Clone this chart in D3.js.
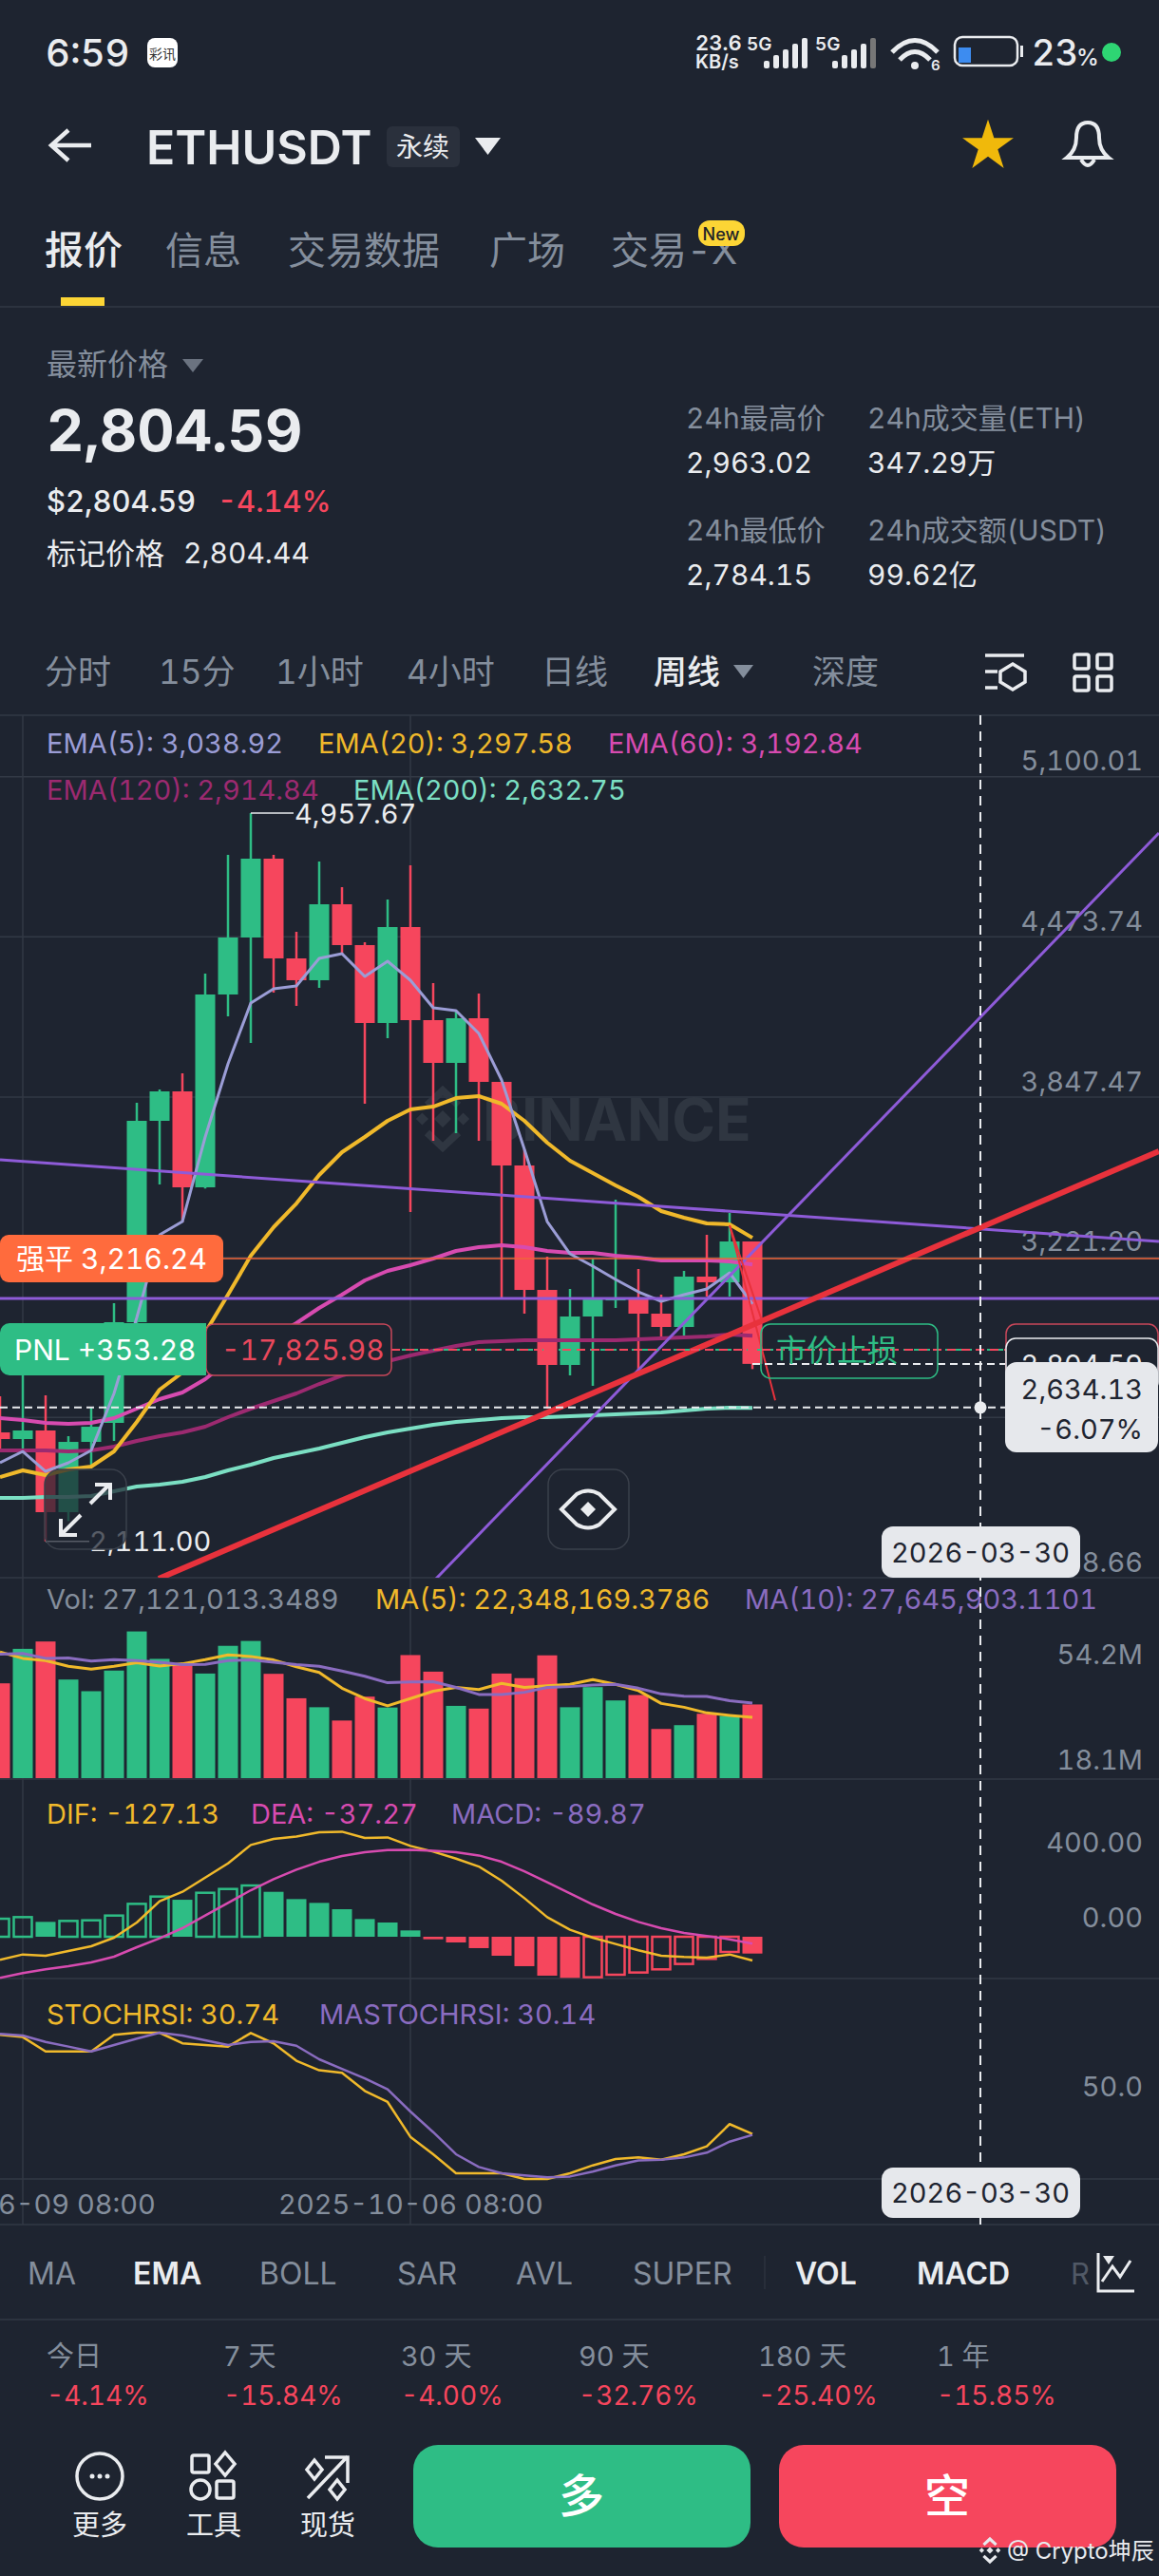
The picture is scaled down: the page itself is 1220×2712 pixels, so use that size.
<!DOCTYPE html>
<html>
<head>
<meta charset="utf-8">
<script src="https://cdn.jsdelivr.net/npm/d3@7"></script>
<style>
  html, body { margin: 0; padding: 0; background: #1e2430; }
  svg { display: block; }
  text { font-family: Inter, "Noto Sans CJK SC", sans-serif; font-variant-numeric: tabular-nums; }
</style>
</head>
<body>
<div id="chart"></div>
<script>
// candles, one per week, index 0 is at the left screen edge
const opens = [2536.7,2510.7,2544.2,2224.8,2499.6,2573.9,2967.5,3754.7,3869.8,3494.8,4248.6,4471.4,4779.6,4389.7,4304.3,4601.3,4441.7,4137.2,4512.2,4148.3,3981.2,4155.7,3907,3580.2,3093.7,2800.4,2989.8,3056.6,3056.6,3000.9,2948.9,3145.7,3123.4,3283.1];
const highs = [2677.8,2759.5,2681.5,2521.9,2633.3,3041.8,3825.3,3877.2,3940.4,4330.3,4794.4,4957.67,4794.4,4493.7,4768.4,4668.2,4452.8,4619.9,4753.6,4293.1,4181.7,4252.3,3907,3643.3,3223.7,3097.4,3216.3,3446.5,3175.4,3075.2,3168,3309.1,3394.5,3283.1];
const lows = [2473.6,2473.6,2111,2190,2406.8,2503.3,2937.8,3505.9,3357.4,3490,4163.2,4059.2,4256,4204,4274.6,4404.5,3821.5,4077.8,3398.2,3676.7,3706.4,3676.7,3056.6,3000.9,2629.6,2759.5,2718.7,3023.2,2778.1,2908.1,2911.8,3067.7,3067.7,2784.15];
const closes = [2510.7,2544.2,2224.8,2499.6,2559,2967.5,3754.7,3869.8,3494.8,4248.6,4471.4,4779.6,4389.7,4304.3,4601.3,4441.7,4137.2,4512.2,4148.3,3981.2,4155.7,3907,3580.2,3093.7,2800.4,2989.8,3056.6,3060,3000.9,2948.9,3145.7,3123.4,3283.1,2804.59];

const ema5 = [2417.9,2462.5,2384.5,2418,2466.2,2689,2986,3309,3361,3691.6,3977.5,4215.2,4270.9,4282,4389.7,4408.2,4319.1,4378.5,4304.3,4196.6,4185.5,4096.3,3914.4,3643.3,3361,3234.8,3186.6,3134.6,3086.3,3049.2,3075.2,3097.4,3160.6,3038.92];
const ema20 = [2362.2,2388.2,2369.6,2391.9,2403.1,2462.5,2577.6,2703.8,2770.7,2926.6,3075.2,3227.4,3338.8,3431.6,3543,3632.2,3691.6,3754.7,3799.3,3810.4,3843.8,3851.2,3821.5,3754.7,3669.3,3598.7,3550.5,3502.2,3457.6,3401.9,3375.9,3353.7,3350,3297.58];
const ema60 = [2592.5,2585,2573.9,2570.2,2573.9,2592.5,2629.6,2666.7,2692.7,2744.7,2815.2,2863.5,2911.8,2963.8,3023.2,3075.2,3130.9,3168,3190.3,3216.3,3246,3260.8,3268.2,3260.8,3246,3238.6,3238.6,3227.4,3220,3208.8,3208.8,3208.8,3205.1,3192.84];
const ema120 = [2466.2,2466.2,2466.2,2462.5,2466.2,2481,2503.3,2521.9,2536.7,2559,2596.2,2629.6,2659.3,2689,2726.1,2759.5,2781.8,2815.2,2837.5,2856.1,2874.7,2889.5,2893.2,2896.9,2896.9,2896.9,2896.9,2896.9,2900.6,2904.3,2908.1,2911.8,2919.2,2914.84];
const ema200 = [2280.5,2280.5,2284.2,2284.2,2287.9,2306.5,2325.1,2332.5,2343.7,2362.2,2388.2,2410.5,2436.4,2455,2473.6,2495.9,2518.2,2536.7,2551.6,2566.4,2577.6,2585,2592.5,2596.2,2596.2,2599.9,2603.6,2607.3,2611,2614.7,2622.2,2629.6,2633.3,2632.75];

// volume in millions
const volumes = [34.9,47.6,50.3,36.3,32,39.6,54,43.9,42.1,38.5,48.7,50.5,38.4,29.4,26.1,21.2,30,26,45.3,39.2,26.6,25.6,38.5,36.8,45.2,26.1,33.5,28.6,30.6,18.1,19.5,23.7,22.9,27.12];
const volMa5 = [46.4,44.1,43.3,41.2,40.1,41.2,42.5,41.3,42.1,43.6,45.4,44.8,43.5,41,38.9,33.1,29.3,26.6,29.3,32,33.4,32.6,34.9,33.4,34,34.5,36.3,34.5,32.2,27.5,26.1,24,23.1,22.35];
const volMa10 = [45.6,45.9,44.1,44.2,43.1,43.6,43.3,42.7,41.8,41.9,43.3,43.5,42.7,41.8,41.2,39.4,37.5,35.1,35.4,35.5,33.4,30.8,30.8,31.6,33.4,33.7,34.3,34.5,33.1,31,30.2,30.1,28.5,27.65];

const macdBars = [96.5,105,79.6,84.7,88,113.4,176,215,198,235.3,255.6,274.3,240.4,201.5,181.2,147.3,94.8,76.2,33.9,-13.5,-30.5,-60.9,-101.6,-157.4,-208.2,-220,-216.7,-203.2,-191.3,-174.4,-145.6,-118.5,-81.3,-89.87];
const dif = [-123.6,-94.8,-101.6,-76.2,-50.8,-5.1,76.2,189.6,240.4,316.6,392.8,491,523.1,536.7,558.7,562.1,528.2,531.6,485.9,455.4,418.2,375.8,299.7,206.5,105,37.2,-5.1,-38.9,-72.8,-101.6,-108.4,-111.7,-94.8,-127.13];
const dea = [-220,-194.7,-174.4,-157.4,-137.1,-106.7,-55.9,-8.5,45.7,113.4,181.2,248.9,308.1,358.9,401.2,431.7,452,463.9,465.6,460.5,452,435.1,401.2,350.5,291.2,231.9,172.7,121.9,79.6,45.7,20.3,3.4,-13.5,-37.27];

const stochRsi = [98.5,97,87.2,87.2,87.2,98.5,100,100,92.7,91.6,90.5,99.8,92.7,80.8,74.3,72.5,60.2,52.6,28.8,16.9,3.9,3.9,3.9,0,0,3.9,9.3,13.6,14.7,13.2,16.9,22.3,37.5,30.74];
const maStochRsi = [99.2,98.1,93.7,90.5,87.2,91.6,95.9,100,98.1,94.8,91.6,93.7,94.2,91.1,81.8,75.3,68.8,61.3,46.1,32,16.9,8.2,3.9,2.4,1.1,1.7,5,9.3,12.6,13.2,14.7,18,25.5,30.14];

// user drawn trend lines as [candle index, price]
const trendFall = [[0,3602.4],[50.83,3283.1]];
const trendFlat = [[0,3060.3],[50.83,3060.3]];
const trendRise = [[19.125,1964.9],[50.83,4879.8]];
const trendRed = [[6.96,1964.9],[50.83,3635.9]];
const sketchRed = [[[32,3346],[34,2662]],[[32,3346],[33.4,2978]]];

const priceTicks = [5100.01,4473.74,3847.47,3221.20,2594.93,1968.66];
const volTicks = [54.2,18.1];
const macdTicks = [400,0];
const stochTicks = [50];
const dateTicks = [[1,"2025-06-09 08:00"],[18,"2025-10-06 08:00"]];

const GREEN = "#2ebd85", RED = "#f6465d", GRAY = "#848e9c", WHITE = "#eaecef", BG = "#1e2430", GRID = "#323945";

const svg = d3.select("#chart").append("svg").attr("width", 1220).attr("height", 2712);
svg.append("rect").attr("width", 1220).attr("height", 2712).attr("fill", BG);

const x = d3.scaleLinear().domain([0, 33]).range([0, 792]);
const y = d3.scaleLinear().domain([5100.01, 1968.66]).range([817.7, 1661]);
const yVol = d3.scaleLinear().domain([0, 54.2]).range([1872, 1717]);
const yVolLabel = d3.scaleLinear().domain([18.1, 54.2]).range([1853, 1742]);
const yMacd = d3.scaleLinear().domain([0, 400]).range([2039, 1960.3]);
const yStoch = d3.scaleLinear().domain([0, 100]).range([2294, 2140]);

const CHART_FONT = 29;

function txt(parent, tx, ty, str, color, size, opts) {
  opts = opts || {};
  return parent.append("text")
    .attr("x", tx).attr("y", ty)
    .attr("dominant-baseline", "central")
    .attr("text-anchor", opts.anchor || "start")
    .attr("font-size", size)
    .attr("font-weight", opts.weight || 400)
    .attr("fill", color)
    .attr("fill-opacity", opts.opacity == null ? 1 : opts.opacity)
    .text(str);
}

// grid lines
const grid = svg.append("g").attr("stroke", GRID).attr("stroke-width", 1.5);
[753, 1661, 1873, 2083, 2294, 2342, 2442, 323].forEach((gy) =>
  grid.append("line").attr("x1", 0).attr("x2", 1220).attr("y1", gy).attr("y2", gy));
priceTicks.slice(0, 5).forEach((p) =>
  grid.append("line").attr("x1", 0).attr("x2", 1220).attr("y1", y(p)).attr("y2", y(p)));
[1, 18].forEach((i) =>
  grid.append("line").attr("x1", x(i)).attr("x2", x(i)).attr("y1", 753).attr("y2", 2342));

// right hand axes, their labels sit above the grid line
function rightAxis(scale, ticks, fmt, offset) {
  const g = svg.append("g").attr("transform", "translate(1203,0)")
    .call(d3.axisLeft(scale).tickValues(ticks).tickSize(0).tickFormat(fmt));
  g.select(".domain").remove();
  g.selectAll("text").attr("x", 0).attr("y", offset)
    .attr("fill", GRAY).attr("font-size", CHART_FONT)
    .attr("font-family", 'Inter, "Noto Sans CJK SC", sans-serif');
}
rightAxis(y, priceTicks, d3.format(",.2f"), -16);
rightAxis(yVolLabel, volTicks, (d) => d + "M", 0);
rightAxis(yMacd, macdTicks, d3.format(".2f"), -20);
rightAxis(yStoch, stochTicks, d3.format(".1f"), -20);

// date axis
const dateAxis = svg.append("g").attr("transform", "translate(0,2322)")
  .call(d3.axisBottom(x).tickValues(dateTicks.map((d) => d[0])).tickSize(0)
    .tickFormat((d) => dateTicks.find((t) => t[0] === d)[1]));
dateAxis.select(".domain").remove();
dateAxis.selectAll("text").attr("y", 0).attr("dy", ".32em")
  .attr("fill", GRAY).attr("font-size", CHART_FONT)
  .attr("font-family", 'Inter, "Noto Sans CJK SC", sans-serif');

// watermark
function diamond(parent, cx, cy, r, color) {
  parent.append("path")
    .attr("d", `M${cx - r},${cy}L${cx},${cy - r}L${cx + r},${cy}L${cx},${cy + r}Z`)
    .attr("fill", color);
}
function binanceLogo(parent, cx, cy, s, color) {
  diamond(parent, cx, cy, s * 0.3, color);
  diamond(parent, cx - s * 0.72, cy, s * 0.22, color);
  diamond(parent, cx + s * 0.72, cy, s * 0.22, color);
  [-1, 1].forEach((d) => {
    parent.append("path")
      .attr("d", `M${cx - s * 0.55},${cy + d * s * 0.48}L${cx},${cy + d * s}L${cx + s * 0.55},${cy + d * s * 0.48}`)
      .attr("fill", "none").attr("stroke", color).attr("stroke-width", s * 0.26);
  });
}
binanceLogo(svg, 466, 1178, 30, "#2f3641");
txt(svg, 508, 1178, "BINANCE", "#2f3641", 62, { weight: 700 });

// main clip keeps the drawn trend lines inside the price pane
svg.append("clipPath").attr("id", "pricePane").append("rect")
  .attr("x", 0).attr("y", 753).attr("width", 1220).attr("height", 908);

const candleData = opens.map((o, i) => ({ i, o, c: closes[i], h: highs[i], l: lows[i], up: closes[i] >= o }));
const colorOf = (d) => (d.up ? GREEN : RED);

const candles = svg.append("g").selectAll("g").data(candleData).join("g");
candles.append("line")
  .attr("x1", (d) => x(d.i)).attr("x2", (d) => x(d.i))
  .attr("y1", (d) => y(d.h)).attr("y2", (d) => y(d.l))
  .attr("stroke", colorOf).attr("stroke-width", 2.5);
candles.append("rect")
  .attr("x", (d) => x(d.i) - 10.5).attr("width", 21)
  .attr("y", (d) => y(Math.max(d.o, d.c)))
  .attr("height", (d) => Math.max(2, Math.abs(y(d.o) - y(d.c))))
  .attr("fill", colorOf);

function seriesLine(scale, values, color, width) {
  const line = d3.line().x((d, i) => x(i)).y((d) => scale(d));
  svg.append("path").attr("d", line(values))
    .attr("fill", "none").attr("stroke", color).attr("stroke-width", width)
    .attr("stroke-linejoin", "round");
}
seriesLine(y, ema200, "#7bdfc3", 4);
seriesLine(y, ema120, "#9c2a70", 4);
seriesLine(y, ema60, "#d74bb0", 4);
seriesLine(y, ema20, "#f0b92b", 4);
seriesLine(y, ema5, "#9b9dd6", 3);

// drawn lines
const trendLine = d3.line().x((d) => x(d[0])).y((d) => y(d[1]));
const trends = svg.append("g").attr("clip-path", "url(#pricePane)").attr("fill", "none");
[trendFall, trendFlat, trendRise].forEach((t) =>
  trends.append("path").attr("d", trendLine(t)).attr("stroke", "#8e5bd8").attr("stroke-width", 3));
trends.append("path").attr("d", trendLine(trendRed)).attr("stroke", "#e8323c").attr("stroke-width", 6);
sketchRed.forEach((t) =>
  trends.append("path").attr("d", trendLine(t)).attr("stroke", "#e8323c").attr("stroke-width", 2));

// high and low callouts
const hiX = x(highs.indexOf(d3.max(highs)));
svg.append("line").attr("x1", hiX).attr("x2", hiX + 45).attr("y1", y(d3.max(highs))).attr("y2", y(d3.max(highs)))
  .attr("stroke", WHITE).attr("stroke-width", 1.5);
txt(svg, hiX + 46, y(d3.max(highs)), d3.format(",.2f")(d3.max(highs)), WHITE, 29);
const loX = x(lows.indexOf(d3.min(lows)));
svg.append("line").attr("x1", loX).attr("x2", loX + 46).attr("y1", y(d3.min(lows))).attr("y2", y(d3.min(lows)))
  .attr("stroke", WHITE).attr("stroke-width", 1.5);
txt(svg, loX + 46, y(d3.min(lows)), d3.format(",.2f")(d3.min(lows)), WHITE, 29);

// indicator legends
txt(svg, 49, 782, "EMA(5): 3,038.92", "#9b9dd6", CHART_FONT);
txt(svg, 335, 782, "EMA(20): 3,297.58", "#f0b92b", CHART_FONT);
txt(svg, 640, 782, "EMA(60): 3,192.84", "#d74bb0", CHART_FONT);
txt(svg, 49, 831, "EMA(120): 2,914.84", "#9c2a70", CHART_FONT);
txt(svg, 372, 831, "EMA(200): 2,632.75", "#7bdfc3", CHART_FONT);
txt(svg, 49, 1683, "Vol: 27,121,013.3489", GRAY, CHART_FONT);
txt(svg, 395, 1683, "MA(5): 22,348,169.3786", "#f0b92b", CHART_FONT);
txt(svg, 784, 1683, "MA(10): 27,645,903.1101", "#8a6cc0", CHART_FONT);
txt(svg, 49, 1909, "DIF: -127.13", "#f0b92b", CHART_FONT);
txt(svg, 264, 1909, "DEA: -37.27", "#d74bb0", CHART_FONT);
txt(svg, 475, 1909, "MACD: -89.87", "#8a6cc0", CHART_FONT);
txt(svg, 49, 2120, "STOCHRSI: 30.74", "#f0b92b", CHART_FONT);
txt(svg, 336, 2120, "MASTOCHRSI: 30.14", "#8a6cc0", CHART_FONT);

// volume
svg.append("g").selectAll("rect").data(candleData).join("rect")
  .attr("x", (d) => x(d.i) - 10.5).attr("width", 21)
  .attr("y", (d) => yVol(volumes[d.i]))
  .attr("height", (d) => yVol(0) - yVol(volumes[d.i]))
  .attr("fill", colorOf);
seriesLine(yVol, volMa5, "#f0b92b", 3);
seriesLine(yVol, volMa10, "#8a6cc0", 3);

// macd histogram, hollow while the bar value is rising
const macdData = macdBars.map((v, i) => ({ i, v, hollow: i === 0 || v > macdBars[i - 1] }));
svg.append("g").selectAll("rect").data(macdData).join("rect")
  .attr("x", (d) => x(d.i) - (d.hollow ? 9.5 : 10.5))
  .attr("width", (d) => (d.hollow ? 19 : 21))
  .attr("y", (d) => Math.min(yMacd(d.v), yMacd(0)))
  .attr("height", (d) => Math.abs(yMacd(d.v) - yMacd(0)))
  .attr("fill", (d) => (d.hollow ? "none" : d.v > 0 ? GREEN : RED))
  .attr("stroke", (d) => (d.hollow ? (d.v > 0 ? GREEN : RED) : "none"))
  .attr("stroke-width", 2.5);
seriesLine(yMacd, dif, "#f0b92b", 2.5);
seriesLine(yMacd, dea, "#d74bb0", 2.5);

seriesLine(yStoch, stochRsi, "#f0b92b", 2.5);
seriesLine(yStoch, maStochRsi, "#8a6cc0", 2.5);

// position lines
const priceLine = (p, x1, x2, color, w, dash) =>
  svg.append("line").attr("x1", x1).attr("x2", x2).attr("y1", y(p)).attr("y2", y(p))
    .attr("stroke", color).attr("stroke-width", w).attr("stroke-dasharray", dash || null);

priceLine(3216.24, 235, 1220, "#f0663a", 1.5);
priceLine(2860.17, 412, 1058, GREEN, 2, "6 5");
priceLine(2860.17, 412, 1058, RED, 2, "9 6");
priceLine(2804.59, 792, 1058, WHITE, 2, "8 5");
priceLine(2634.13, 0, 1058, WHITE, 2, "8 5");
svg.append("line").attr("x1", 1032).attr("x2", 1032).attr("y1", 753).attr("y2", 2342)
  .attr("stroke", WHITE).attr("stroke-width", 2).attr("stroke-dasharray", "10 7");
svg.append("circle").attr("cx", 1032).attr("cy", y(2634.13)).attr("r", 6.5).attr("fill", WHITE);

// liquidation tag
svg.append("rect").attr("x", 0).attr("y", 1300).attr("width", 235).attr("height", 50).attr("rx", 9).attr("fill", "#ff6b3d");
txt(svg, 17, 1325, "强平 3,216.24", "#fff", 30);

// pnl tag
svg.append("rect").attr("x", 217).attr("y", 1394).attr("width", 195).attr("height", 54).attr("rx", 8)
  .attr("fill", BG).attr("stroke", "#c9475a").attr("stroke-width", 1.5);
svg.append("path").attr("d", "M217,1393H10a10,10 0 0 0 -10,10V1438a10,10 0 0 0 10,10H217Z").attr("fill", GREEN);
txt(svg, 15, 1421, "PNL +353.28", "#fff", 30);
txt(svg, 233, 1421, "-17,825.98", "#e8485c", 30);

// market stop tag
svg.append("rect").attr("x", 801).attr("y", 1394).attr("width", 186).attr("height", 57).attr("rx", 10)
  .attr("fill", "none").attr("stroke", GREEN).attr("stroke-width", 1.5);
txt(svg, 817, 1421, "市价止损", GREEN, 32);

// right side price tags
svg.append("rect").attr("x", 1059).attr("y", 1394).attr("width", 160).attr("height", 56).attr("rx", 10)
  .attr("fill", BG).attr("stroke", "#c9475a").attr("stroke-width", 1.5);
txt(svg, 1203, 1421, "2,860.17", "#7b2f3f", CHART_FONT, { anchor: "end" });
svg.append("rect").attr("x", 1059).attr("y", 1409).attr("width", 160).attr("height", 56).attr("rx", 10)
  .attr("fill", BG).attr("stroke", WHITE).attr("stroke-width", 1.5);
txt(svg, 1203, 1436, "2,804.59", WHITE, CHART_FONT, { anchor: "end" });
svg.append("rect").attr("x", 1058).attr("y", 1434).attr("width", 161).attr("height", 95).attr("rx", 12).attr("fill", "#e6e8ec");
txt(svg, 1203, 1462, "2,634.13", BG, CHART_FONT, { anchor: "end" });
txt(svg, 1203, 1504, "-6.07%", BG, CHART_FONT, { anchor: "end" });

function dateTag(tagY, h) {
  svg.append("rect").attr("x", 928).attr("y", tagY).attr("width", 209).attr("height", h).attr("rx", 12).attr("fill", "#e6e8ec");
  txt(svg, 1032, tagY + h / 2, "2026-03-30", BG, CHART_FONT, { anchor: "middle" });
}
dateTag(1607, 54);
dateTag(2282, 53);

// floating chart buttons
const btn = svg.append("g");
btn.append("rect").attr("x", 47).attr("y", 1547).attr("width", 86).attr("height", 84).attr("rx", 16)
  .attr("fill", BG).attr("fill-opacity", 0.72).attr("stroke", "#3a404b").attr("stroke-width", 1.5);
btn.append("path").attr("d", "M95,1583L115,1563M100,1563H116V1579M85,1595L65,1615M64,1599V1616H81")
  .attr("fill", "none").attr("stroke", WHITE).attr("stroke-width", 4);
btn.append("rect").attr("x", 577).attr("y", 1547).attr("width", 85).attr("height", 84).attr("rx", 16)
  .attr("fill", BG).attr("stroke", "#3a404b").attr("stroke-width", 1.5);
btn.append("path").attr("d", "M591,1589L607,1573Q619,1566 631,1573L647,1589L631,1605Q619,1612 607,1605Z")
  .attr("fill", "none").attr("stroke", WHITE).attr("stroke-width", 4);
diamond(btn, 619, 1589, 8, WHITE);

// ---- app chrome ----
txt(svg, 48, 55, "6:59", WHITE, 40, { weight: 500 });
svg.append("rect").attr("x", 155).attr("y", 40).attr("width", 32).attr("height", 31).attr("rx", 8).attr("fill", "#fff");
txt(svg, 171, 56, "彩讯", "#333", 14, { anchor: "middle" });

txt(svg, 732, 45, "23.6", WHITE, 22, { weight: 600 });
txt(svg, 732, 65, "KB/s", WHITE, 20, { weight: 600 });
[786, 858].forEach((sx) => {
  txt(svg, sx, 46, "5G", WHITE, 19, { weight: 600 });
  [0, 1, 2, 3, 4].forEach((b) =>
    svg.append("rect").attr("x", sx + 18 + b * 10).attr("y", 64 - b * 6).attr("width", 6).attr("height", 8 + b * 6)
      .attr("rx", 2).attr("fill", sx === 858 && b === 4 ? "#777" : WHITE));
});
const wifi = svg.append("g").attr("fill", "none").attr("stroke", WHITE).attr("stroke-width", 5);
wifi.append("path").attr("d", "M939,55Q963,30 987,55");
wifi.append("path").attr("d", "M947,63Q963,46 979,63");
svg.append("circle").attr("cx", 963).attr("cy", 69).attr("r", 4).attr("fill", WHITE);
txt(svg, 980, 68, "6", WHITE, 15, { weight: 600 });
svg.append("rect").attr("x", 1005).attr("y", 39).attr("width", 66).attr("height", 30).attr("rx", 8)
  .attr("fill", "none").attr("stroke", WHITE).attr("stroke-width", 2.5);
svg.append("rect").attr("x", 1009).attr("y", 50).attr("width", 13).attr("height", 16).attr("fill", "#3d8cf0");
svg.append("rect").attr("x", 1074).attr("y", 48).attr("width", 3).attr("height", 12).attr("fill", WHITE);
txt(svg, 1086, 55, "23", WHITE, 38, { weight: 500 });
txt(svg, 1133, 60, "%", WHITE, 24, { weight: 500 });
svg.append("circle").attr("cx", 1170).attr("cy", 55).attr("r", 10).attr("fill", "#2ed573");

svg.append("path").attr("d", "M96,153H54M72,137L54,153L72,169")
  .attr("fill", "none").attr("stroke", WHITE).attr("stroke-width", 4.5);
txt(svg, 154, 155, "ETHUSDT", WHITE, 50, { weight: 600 });
svg.append("rect").attr("x", 407).attr("y", 133).attr("width", 77).attr("height", 43).attr("rx", 6).attr("fill", "#2a303c");
txt(svg, 445, 155, "永续", WHITE, 28, { anchor: "middle" });
svg.append("path").attr("d", "M500,145H527L513.5,163Z").attr("fill", WHITE);
const star = d3.symbol().type(d3.symbolStar).size(900);
svg.append("path").attr("d", star()).attr("transform", "translate(1040,154)").attr("fill", "#f0b90b");
svg.append("path").attr("d", "M1123,166Q1133,158 1133,145Q1133,129 1145,129Q1157,129 1157,145Q1157,158 1167,166Z")
  .attr("fill", "none").attr("stroke", WHITE).attr("stroke-width", 4);
svg.append("path").attr("d", "M1138,168Q1145,180 1152,168").attr("fill", "none").attr("stroke", WHITE).attr("stroke-width", 4);

txt(svg, 47, 263, "报价", WHITE, 41, { weight: 500 });
txt(svg, 174, 263, "信息", GRAY, 40);
txt(svg, 303, 263, "交易数据", GRAY, 40);
txt(svg, 515, 263, "广场", GRAY, 40);
txt(svg, 643, 263, "交易-X", GRAY, 40);
svg.append("rect").attr("x", 735).attr("y", 232).attr("width", 49).attr("height", 27).attr("rx", 12).attr("fill", "#fcd535");
txt(svg, 759, 246, "New", "#1e2329", 18, { anchor: "middle", weight: 500 });
svg.append("rect").attr("x", 64).attr("y", 313).attr("width", 46).attr("height", 9).attr("fill", "#fcd535");

txt(svg, 49, 383, "最新价格", GRAY, 32);
svg.append("path").attr("d", "M192,378H214L203,392Z").attr("fill", "#6b7380");
txt(svg, 49, 453, "2,804.59", WHITE, 61, { weight: 700 });
txt(svg, 49, 527, "$2,804.59", WHITE, 31, { weight: 500 });
txt(svg, 229, 527, "-4.14%", RED, 31, { weight: 500 });
txt(svg, 49, 582, "标记价格", WHITE, 31);
txt(svg, 193, 582, "2,804.44", WHITE, 30);

const stats = [
  [722, 440, "24h最高价", GRAY], [913, 440, "24h成交量(ETH)", GRAY],
  [722, 487, "2,963.02", WHITE], [913, 487, "347.29万", WHITE],
  [722, 558, "24h最低价", GRAY], [913, 558, "24h成交额(USDT)", GRAY],
  [722, 605, "2,784.15", WHITE], [913, 605, "99.62亿", WHITE],
];
stats.forEach((s) => txt(svg, s[0], s[1], s[2], s[3], 30));

const periods = [[47, "分时", GRAY], [167, "15分", GRAY], [290, "1小时", GRAY], [428, "4小时", GRAY], [570, "日线", GRAY], [688, "周线", WHITE], [855, "深度", GRAY]];
periods.forEach((p) => txt(svg, p[0], 707, p[1], p[2], 35, { weight: p[2] === WHITE ? 500 : 400 }));
svg.append("path").attr("d", "M772,700H793L782.5,714Z").attr("fill", GRAY);
const ico = svg.append("g").attr("fill", "none").attr("stroke", WHITE).attr("stroke-width", 3.5);
ico.append("path").attr("d", "M1037,690H1078M1037,707H1050M1037,724H1050");
ico.append("path").attr("d", "M1066,699L1079,707V718L1066,726L1053,718V707Z");
[[1131, 689], [1155, 689], [1131, 712], [1155, 712]].forEach((c) =>
  ico.append("rect").attr("x", c[0]).attr("y", c[1]).attr("width", 15).attr("height", 15).attr("rx", 2));

const indicators = [[29, "MA", GRAY], [140, "EMA", WHITE], [273, "BOLL", GRAY], [418, "SAR", GRAY], [543, "AVL", GRAY], [666, "SUPER", GRAY], [837, "VOL", WHITE], [965, "MACD", WHITE]];
indicators.forEach((t) => txt(svg, t[0], 2393, t[1], t[2], 32, { weight: t[2] === WHITE ? 600 : 400 }));
txt(svg, 1127, 2393, "R", GRAY, 31, { opacity: 0.5 });
svg.append("line").attr("x1", 805).attr("x2", 805).attr("y1", 2375).attr("y2", 2410).attr("stroke", GRID);
svg.append("path").attr("d", "M1156,2372V2412H1194M1160,2402L1171,2386L1179,2397L1190,2380")
  .attr("fill", "none").attr("stroke", WHITE).attr("stroke-width", 3);
svg.append("path").attr("d", "M1161,2375H1173L1167,2384Z").attr("fill", WHITE);

const ranges = ["今日", "7 天", "30 天", "90 天", "180 天", "1 年"];
const rangeValues = ["-4.14%", "-15.84%", "-4.00%", "-32.76%", "-25.40%", "-15.85%"];
const rangeX = [49, 235, 422, 609, 798, 986];
ranges.forEach((r, i) => {
  txt(svg, rangeX[i], 2480, r, GRAY, 29);
  txt(svg, rangeX[i], 2522, rangeValues[i], RED, 28);
});

// bottom bar
const tools = [[105, "更多"], [225, "工具"], [345, "现货"]];
tools.forEach((t) => txt(svg, t[0], 2658, t[1], WHITE, 29, { anchor: "middle" }));
const bar = svg.append("g").attr("fill", "none").attr("stroke", WHITE).attr("stroke-width", 3.5);
bar.append("circle").attr("cx", 105).attr("cy", 2607).attr("r", 24);
[-8, 0, 8].forEach((d) => svg.append("circle").attr("cx", 105 + d).attr("cy", 2607).attr("r", 2.5).attr("fill", WHITE));
bar.append("rect").attr("x", 202).attr("y", 2585).attr("width", 18).attr("height", 18).attr("rx", 2);
bar.append("path").attr("d", "M237,2582L247,2594L237,2606L227,2594Z");
bar.append("circle").attr("cx", 211).attr("cy", 2621).attr("r", 10);
bar.append("rect").attr("x", 228).attr("y", 2612).attr("width", 18).attr("height", 18).attr("rx", 2);
bar.append("path").attr("d", "M324,2630L366,2586M342,2587H366V2614");
bar.append("path").attr("d", "M331,2590L339,2600L331,2610L323,2600Z");
bar.append("path").attr("d", "M355,2611L363,2621L355,2631L347,2621Z");

svg.append("rect").attr("x", 435).attr("y", 2574).attr("width", 355).attr("height", 108).attr("rx", 26).attr("fill", GREEN);
svg.append("rect").attr("x", 820).attr("y", 2574).attr("width", 355).attr("height", 108).attr("rx", 26).attr("fill", RED);
txt(svg, 612, 2627, "多", "#fff", 48, { anchor: "middle", weight: 500 });
txt(svg, 997, 2627, "空", "#fff", 48, { anchor: "middle", weight: 500 });

binanceLogo(svg, 1042, 2685, 12, "#e8eaee");
txt(svg, 1060, 2685, "@ Crypto坤辰", "#e8eaee", 24);
</script>
</body>
</html>
